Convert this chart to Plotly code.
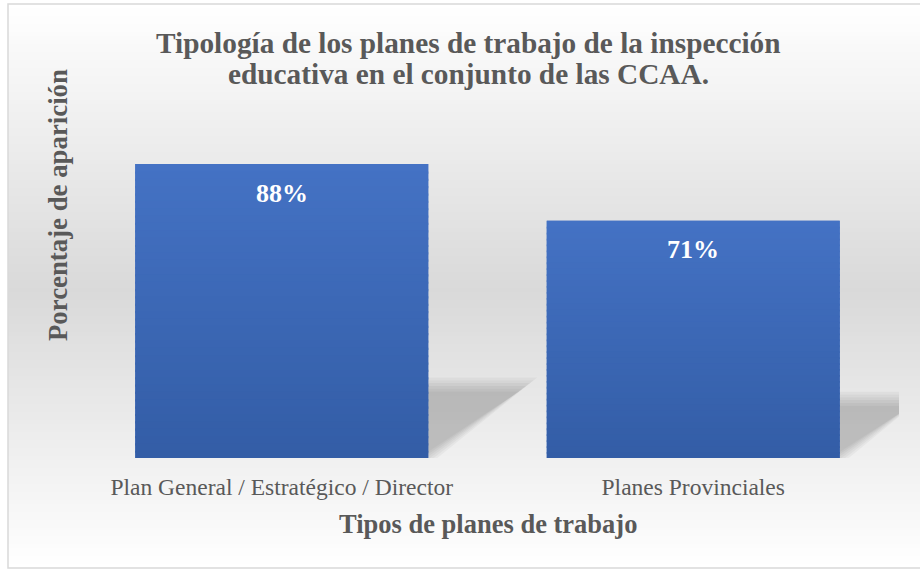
import plotly.graph_objects as go

# ---- data ----
categories = ["Plan General / Estratégico / Director", "Planes Provinciales"]
values = [0.88, 0.71]
labels = ["88%", "71%"]
title_lines = ["Tipología de los planes de trabajo de la inspección",
               "educativa en el conjunto de las CCAA."]
x_title = "Tipos de planes de trabajo"
y_title = "Porcentaje de aparición"

# ---- geometry ----
W, H = 920, 570
ML, MR, MT, MB = 76, 21, 124, 112
PW = W - ML - MR
PH = H - MT - MB
BAR_W = 0.712
SERIF = "Liberation Serif, Times New Roman, serif"
GREY = "#595959"


def px_x(px):
    return (px - ML) / PW


def px_y(py):
    return (H - MB - py) / PH


def lerp(c1, c2, f):
    return "rgb(%d,%d,%d)" % tuple(round(a + (b - a) * f) for a, b in zip(c1, c2))


xs = list(range(len(categories)))

fig = go.Figure()
fig.add_trace(go.Bar(
    x=xs, y=values, width=BAR_W,
    marker=dict(color="#4472c4", line=dict(width=0)),
    hoverinfo="skip",
))

shapes = []

# background gradient (white -> grey -> white)
top_px, bot_px, peak_px = 4, 568, 290
white = (255, 255, 255)
grey = (217, 217, 217)
step = 4
py = top_px
while py < bot_px:
    mid = py + step / 2
    if mid <= peak_px:
        f = (mid - top_px) / (peak_px - top_px)
    else:
        f = (bot_px - mid) / (bot_px - peak_px)
    col = lerp(white, grey, f)
    shapes.append(dict(type="rect", xref="paper", yref="paper", layer="below",
                       x0=px_x(8), x1=px_x(W + 5), y0=px_y(min(py + step + 0.5, bot_px)), y1=px_y(py),
                       fillcolor=col, line=dict(width=0)))
    py += step

# border
shapes.append(dict(type="rect", xref="paper", yref="paper", layer="below",
                   x0=px_x(8), x1=px_x(W + 10), y0=px_y(568), y1=px_y(4),
                   fillcolor="rgba(0,0,0,0)", line=dict(color="#d9d9d9", width=1.5)))

# perspective shadows (soft, layered)
x_unit = PW / 2.0   # px per x data unit
y_unit = PH / 1.0   # px per y data unit
for xi, h in zip(xs, values):
    xl, xr = xi - BAR_W / 2, xi + BAR_W / 2
    s = 0.25 * h
    dx = 0.276 * h
    for e in [-7, -4.2, -1.4, 1.4, 4.2, 7]:
        ex = e / x_unit * 1.3
        ey = e / y_unit
        path = "M %f,%f L %f,%f L %f,%f L %f,%f Z" % (
            xl, 0, xr + ex, 0, xr + dx + ex, s + ey, xl + dx, s + ey)
        shapes.append(dict(type="path", xref="x", yref="y", layer="below", path=path,
                           fillcolor="rgba(0,0,0,0.034)", line=dict(width=0)))

# vertical gradient on bars
top_c = (68, 114, 196)
bot_c = (51, 93, 166)
N = 40
for xi, h in zip(xs, values):
    for j in range(N):
        y1 = h - j * h / N
        y0 = max(0, h - (j + 1.3) * h / N)
        f = (j + 0.5) / N
        shapes.append(dict(type="rect", xref="x", yref="y", layer="above",
                           x0=xi - BAR_W / 2, x1=xi + BAR_W / 2, y0=y0, y1=y1,
                           fillcolor=lerp(top_c, bot_c, f), line=dict(width=0)))

annotations = []
# title
for i, (line, base) in enumerate(zip(title_lines, [52, 83])):
    annotations.append(dict(text="<b>%s</b>" % line, xref="paper", yref="paper",
                            x=px_x(468.5), y=px_y(base - 9), xanchor="center", yanchor="middle",
                            showarrow=False, font=dict(family=SERIF, size=29.3, color=GREY)))
# axis titles
annotations.append(dict(text="<b>%s</b>" % x_title, xref="paper", yref="paper",
                        x=px_x(487.5), y=px_y(524), xanchor="center", yanchor="middle",
                        showarrow=False, font=dict(family=SERIF, size=26.5, color=GREY)))
annotations.append(dict(text="<b>%s</b>" % y_title, xref="paper", yref="paper",
                        x=px_x(58), y=px_y(205), xanchor="center", yanchor="middle",
                        textangle=-90, showarrow=False,
                        font=dict(family=SERIF, size=26.8, color=GREY)))
# data labels
for xi, h, lab in zip(xs, values, labels):
    annotations.append(dict(text="<b>%s</b>" % lab, x=xi, y=h, xref="x", yref="y",
                            xanchor="center", yanchor="middle", yshift=-29,
                            showarrow=False, font=dict(family=SERIF, size=26, color="white")))

fig.update_layout(
    width=W, height=H,
    margin=dict(l=ML, r=MR, t=MT, b=MB),
    paper_bgcolor="white", plot_bgcolor="rgba(0,0,0,0)",
    showlegend=False,
    shapes=shapes, annotations=annotations,
    xaxis=dict(range=[-0.5, 1.5], tickvals=xs, ticktext=categories,
               showgrid=False, zeroline=False, showline=False, ticks="",
               ticklabelstandoff=12,
               tickfont=dict(family=SERIF, size=23.5, color=GREY), fixedrange=True),
    yaxis=dict(range=[0, 1], visible=False, fixedrange=True),
)

fig.write_html("out.html", config={"displayModeBar": False},
               post_script="document.body.style.margin='0';document.body.style.overflow='hidden';")
